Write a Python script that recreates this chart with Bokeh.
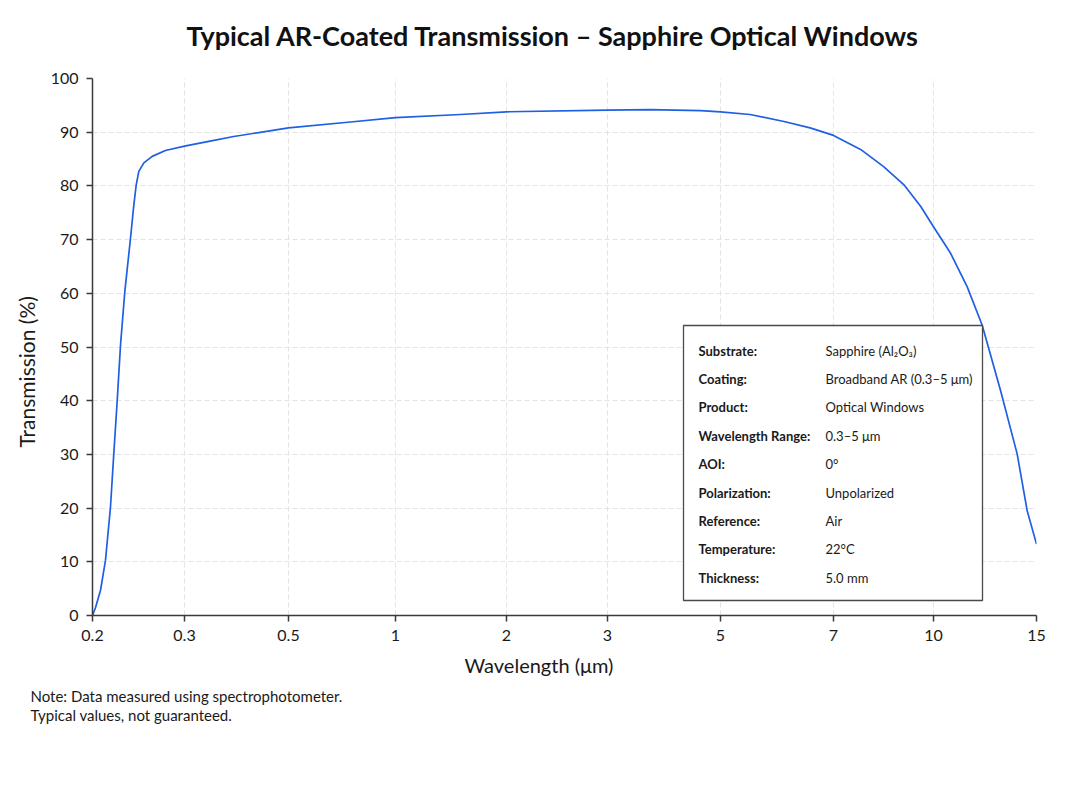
import numpy as np
from bokeh.plotting import figure
from bokeh.layouts import column
from bokeh.models import (Range1d, FixedTicker, Label, BoxAnnotation, ColumnDataSource, Title)
from bokeh.embed import file_html
from bokeh.resources import INLINE

# ---------------- data ----------------
WAVELENGTH_UM = [0.2, 0.2027, 0.2072, 0.2118, 0.2165, 0.2197, 0.2230, 0.2263, 0.2306,
                 0.2365, 0.2400, 0.2425, 0.2453, 0.2508, 0.2602, 0.2758, 0.3, 0.338,
                 0.382, 0.5, 0.747, 1.0, 1.5, 2.0, 3.0, 3.64, 4.57, 5.0, 5.46, 6.04,
                 6.53, 7.0, 7.71, 8.37, 9.0, 9.55, 10.0, 10.69, 11.42, 12.11, 13.02,
                 13.90, 14.46, 15.0]
TRANSMISSION_PCT = [0.0, 1.5, 4.7, 10.3, 20.2, 30.2, 40.0, 50.4, 60.3,
                    70.3, 76.5, 80.2, 82.7, 84.3, 85.5, 86.6, 87.4, 88.3,
                    89.2, 90.8, 91.9, 92.7, 93.3, 93.8, 94.1, 94.2, 94.0, 93.8, 93.3, 92.0,
                    90.8, 89.4, 86.8, 83.6, 80.2, 76.2, 72.4, 67.5, 61.2, 54.1, 41.9,
                    30.1, 19.5, 13.3]

X_TICK_VALUES = [0.2, 0.3, 0.5, 1, 2, 3, 5, 7, 10, 15]
X_TICK_LABELS = ["0.2", "0.3", "0.5", "1", "2", "3", "5", "7", "10", "15"]
Y_TICKS = [0, 10, 20, 30, 40, 50, 60, 70, 80, 90, 100]

INFO_KEYS = ["Substrate:", "Coating:", "Product:", "Wavelength Range:", "AOI:",
             "Polarization:", "Reference:", "Temperature:", "Thickness:"]
INFO_VALUES = ["Sapphire (Al\u2082O\u2083)", "Broadband AR (0.3\u20135 \u03bcm)", "Optical Windows",
               "0.3\u20135 \u03bcm", "0\u00b0", "Unpolarized", "Air", "22\u00b0C", "5.0 mm"]

TITLE = "Typical AR-Coated Transmission \u2013 Sapphire Optical Windows"
X_LABEL = "Wavelength (\u03bcm)"
Y_LABEL = "Transmission (%)"
NOTE_LINES = ["Note: Data measured using spectrophotometer.", "Typical values, not guaranteed."]

# ---------------- layout (axis position of each tick on the custom x scale) ----------------
TICK_POS = [0, 92, 196, 303, 414, 515, 628, 741, 841, 944]

def to_axis(w):
    return np.interp(np.log(np.asarray(w, dtype=float)), np.log(X_TICK_VALUES), TICK_POS)

FONT = "Lato"
TXT = "#1a1a1a"
W = 1060
TITLE_H = 60

# ---- title strip (its own small figure so the heading can sit freely) ----
pt = figure(width=W, height=TITLE_H, output_backend="svg", toolbar_location=None,
            x_range=Range1d(0, 1), y_range=Range1d(0, 1),
            x_axis_type=None, y_axis_type=None, min_border=0)
pt.outline_line_color = None
pt.grid.visible = False
pt.border_fill_color = "white"
pt.background_fill_color = "white"
pt.add_layout(Label(x=94, y=TITLE_H - 35, x_units="screen", y_units="screen", text=TITLE,
                    text_font=FONT, text_font_style="bold", text_font_size="27px",
                    text_color="#111111", text_align="left", text_baseline="middle"))

# ---- main chart ----
p = figure(width=W, height=784 - TITLE_H, output_backend="svg", toolbar_location=None,
           x_range=Range1d(0, 944), y_range=Range1d(0, 100),
           min_border_left=92, min_border_right=24, min_border_top=78 - TITLE_H,
           min_border_bottom=169)
p.outline_line_color = None
p.background_fill_color = "white"
p.border_fill_color = "white"

src = ColumnDataSource(dict(x=to_axis(WAVELENGTH_UM), y=TRANSMISSION_PCT))
p.line("x", "y", source=src, line_color="#1f5fe3", line_width=1.7, line_join="round")

# axes
p.xaxis.ticker = FixedTicker(ticks=TICK_POS)
p.xaxis.major_label_overrides = {pos: lab for pos, lab in zip(TICK_POS, X_TICK_LABELS)}
p.yaxis.ticker = FixedTicker(ticks=Y_TICKS)
for ax in (p.xaxis, p.yaxis):
    ax.axis_line_color = "#3a3a3a"
    ax.axis_line_width = 1.5
    ax.major_tick_line_color = "#3a3a3a"
    ax.major_tick_line_width = 1.5
    ax.major_tick_out = 6
    ax.major_tick_in = 0
    ax.minor_tick_line_color = None
    ax.major_label_text_font = FONT
    ax.major_label_text_font_size = "16px"
    ax.major_label_text_color = TXT
    ax.major_label_standoff = 8

p.xgrid.ticker = FixedTicker(ticks=TICK_POS)
p.ygrid.ticker = FixedTicker(ticks=Y_TICKS)
for g in (p.xgrid, p.ygrid):
    g.grid_line_color = "#e3e3e3"
    g.grid_line_dash = "5 3"
    g.grid_line_width = 1

# axis labels and note as Title panels
p.add_layout(Title(text=Y_LABEL, align="left", offset=168, standoff=17,
                   text_font=FONT, text_font_style="normal", text_font_size="21px",
                   text_color=TXT), "left")
p.add_layout(Title(text=X_LABEL, align="left", offset=372, standoff=14,
                   text_font=FONT, text_font_style="normal", text_font_size="20px",
                   text_color=TXT), "below")
for i, line in enumerate(NOTE_LINES):
    p.add_layout(Title(text=line, align="left", offset=-62, standoff=3 if i == 0 else -5,
                       text_font=FONT, text_font_style="normal", text_font_size="15px",
                       text_color=TXT), "below")

# info box
p.add_layout(BoxAnnotation(left=591, right=890, bottom=15, top=290,
                           left_units="screen", right_units="screen",
                           bottom_units="screen", top_units="screen",
                           fill_color="white", fill_alpha=1.0,
                           line_color="#4a4a4a", line_alpha=1.0, line_width=1.3))
for i, (k, v) in enumerate(zip(INFO_KEYS, INFO_VALUES)):
    yy = 265 - 28.4 * i
    p.add_layout(Label(x=606, y=yy, x_units="screen", y_units="screen", text=k,
                       text_font=FONT, text_font_style="bold", text_font_size="13px",
                       text_color=TXT, text_align="left", text_baseline="middle"))
    p.add_layout(Label(x=733, y=yy, x_units="screen", y_units="screen", text=v,
                       text_font=FONT, text_font_size="13px",
                       text_color=TXT, text_align="left", text_baseline="middle"))

layout = column(pt, p, spacing=0)
open("out.html", "w").write(file_html(layout, INLINE))
